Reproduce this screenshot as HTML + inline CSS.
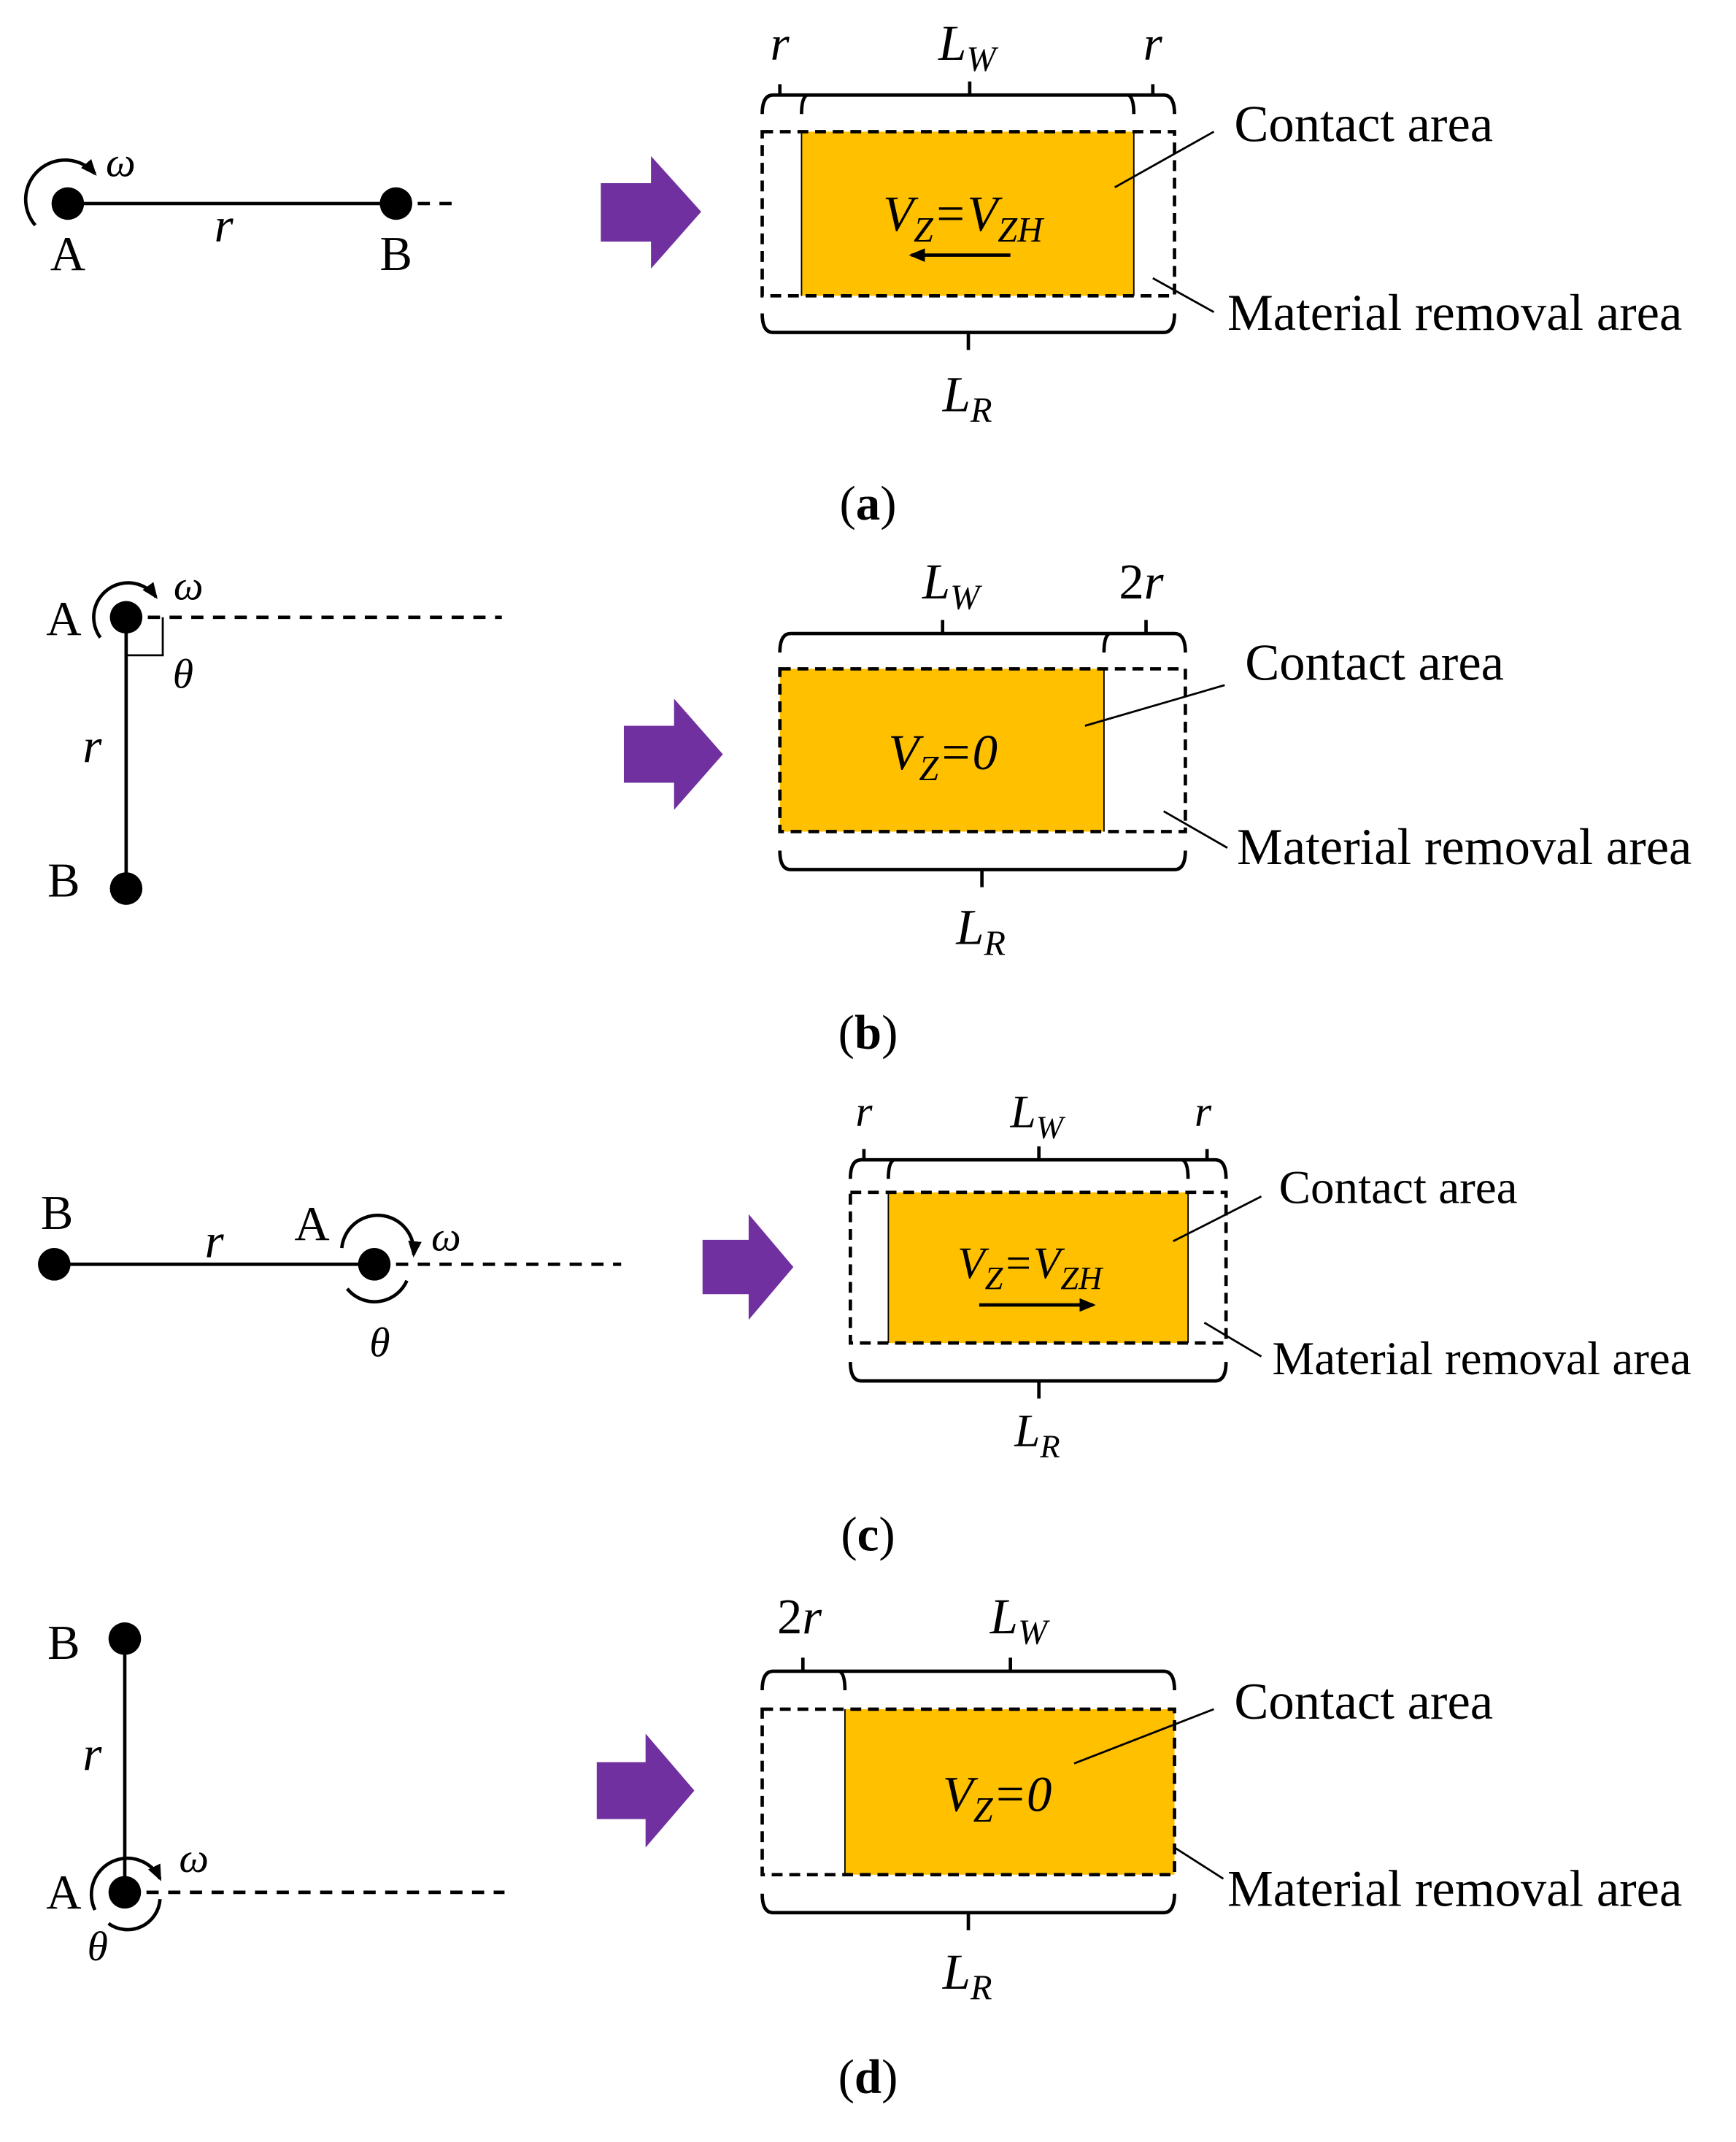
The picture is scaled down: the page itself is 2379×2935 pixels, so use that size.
<!DOCTYPE html>
<html><head><meta charset="utf-8"><style>
html,body{margin:0;padding:0;background:#fff}
svg{display:block}
text{font-family:"Liberation Serif",serif;fill:#000}
.i{font-style:italic}
</style></head><body>
<svg width="2379" height="2935" viewBox="0 0 1280 1579" xmlns="http://www.w3.org/2000/svg">
<defs>
<marker id="ah2" markerWidth="12" markerHeight="10" refX="10" refY="5" orient="auto" markerUnits="userSpaceOnUse"><path d="M0,0 L12,5 L0,10 z" fill="#000"/></marker>
</defs>
<g stroke="#000" fill="none" stroke-width="2.5">
<line x1="50" y1="150" x2="292" y2="150"/>
<line x1="292" y1="150" x2="337" y2="150" stroke-dasharray="9,7"/>
<path d="M26,166 A26,26 0 1 1 70,128" marker-end="url(#ah2)"/>
<line x1="93" y1="455" x2="93" y2="655"/>
<line x1="93" y1="455" x2="370" y2="455" stroke-dasharray="9,7"/>
<path d="M93,483 H120 V455" stroke-width="1.5"/>
<path d="M74,470 A24,24 0 1 1 115,440" marker-end="url(#ah2)"/>
<line x1="40" y1="932" x2="276" y2="932"/>
<line x1="276" y1="932" x2="458" y2="932" stroke-dasharray="9,7"/>
<path d="M252,920 A26,26 0 1 1 305,925" marker-end="url(#ah2)"/>
<path d="M256,950 A26,26 0 0 0 300,944"/>
<line x1="92" y1="1208" x2="92" y2="1395"/>
<line x1="92" y1="1395" x2="372" y2="1395" stroke-dasharray="9,7"/>
<path d="M70,1408 A26,26 0 1 1 118,1385" marker-end="url(#ah2)"/>
<path d="M80,1418 A24,24 0 0 0 118,1400"/>
</g>
<g fill="#000">
<circle cx="50" cy="150" r="12"/><circle cx="292" cy="150" r="12"/>
<circle cx="93" cy="455" r="12"/><circle cx="93" cy="655" r="12"/>
<circle cx="40" cy="932" r="12"/><circle cx="276" cy="932" r="12"/>
<circle cx="92" cy="1208" r="12"/><circle cx="92" cy="1395" r="12"/>
</g>
<g fill="#7030a0">
<path d="M443,135 H480 V115 L517,156 L480,198 V178 H443 Z"/>
<path d="M460,535 H497 V515 L533,556 L497,597 V577 H460 Z"/>
<path d="M518,914 H552 V895 L585,934 L552,973 V954 H518 Z"/>
<path d="M440,1299 H476 V1278 L512,1320 L476,1362 V1341 H440 Z"/>
</g>
<g stroke-width="0">
<rect x="591" y="97" width="245" height="121" fill="#ffc000"/>
<rect x="575" y="493" width="239" height="120" fill="#ffc000"/>
<rect x="655" y="879" width="221" height="111" fill="#ffc000"/>
<rect x="623" y="1260" width="243" height="122" fill="#ffc000"/>
</g>
<g stroke="#000" fill="none" stroke-width="2.5">
<rect x="562" y="97" width="304" height="121" stroke-dasharray="8,5"/>
<rect x="575" y="493" width="299" height="120" stroke-dasharray="8,5"/>
<rect x="627" y="879" width="277" height="111" stroke-dasharray="8,5"/>
<rect x="562" y="1260" width="304" height="122" stroke-dasharray="8,5"/>
<line x1="591" y1="97" x2="591" y2="218" stroke-width="1"/><line x1="836" y1="97" x2="836" y2="218" stroke-width="1"/>
<line x1="814" y1="493" x2="814" y2="613" stroke-width="1"/>
<line x1="655" y1="879" x2="655" y2="990" stroke-width="1"/><line x1="876" y1="879" x2="876" y2="990" stroke-width="1"/>
<line x1="623" y1="1260" x2="623" y2="1382" stroke-width="1"/>
<line x1="745" y1="188" x2="672" y2="188" marker-end="url(#ah2)"/>
<line x1="722" y1="962" x2="806" y2="962" marker-end="url(#ah2)"/>
<path d="M562,84 Q562,70 570,70 H858 Q866,70 866,84"/>
<path d="M591,84 Q591,72 595,70 M836,84 Q836,72 832,70"/>
<path d="M575,62 V70 M715,60 V70 M850,62 V70"/>
<path d="M575,481 Q575,467 583,467 H866 Q874,467 874,481"/>
<path d="M814,481 Q814,469 818,467 M695,457 V467 M845,457 V467"/>
<path d="M627,869 Q627,855 635,855 H896 Q904,855 904,869"/>
<path d="M655,869 Q655,857 659,855 M876,869 Q876,857 872,855 M637,847 V855 M766,845 V855 M890,847 V855"/>
<path d="M562,1246 Q562,1232 570,1232 H858 Q866,1232 866,1246"/>
<path d="M623,1246 Q623,1234 619,1232 M592,1222 V1232 M745,1222 V1232"/>
<path d="M562,231 Q562,245 570,245 H858 Q866,245 866,231 M714,245 V258"/>
<path d="M575,627 Q575,641 583,641 H866 Q874,641 874,627 M724,641 V654"/>
<path d="M627,1004 Q627,1018 635,1018 H896 Q904,1018 904,1004 M766,1018 V1031"/>
<path d="M562,1396 Q562,1410 570,1410 H858 Q866,1410 866,1396 M714,1410 V1423"/>
<g stroke-width="1.5">
<line x1="895" y1="97" x2="822" y2="138"/><line x1="895" y1="230" x2="850" y2="205"/>
<line x1="903" y1="505" x2="800" y2="535"/><line x1="905" y1="625" x2="858" y2="598"/>
<line x1="930" y1="882" x2="865" y2="915"/><line x1="930" y1="1000" x2="888" y2="975"/>
<line x1="895" y1="1260" x2="792" y2="1300"/><line x1="902" y1="1385" x2="866" y2="1362"/>
</g>
</g>
<g font-size="36">
<text x="50" y="199" text-anchor="middle">A</text>
<text x="292" y="199" text-anchor="middle">B</text>
<text x="165" y="178" class="i" text-anchor="middle">r</text>
<text x="78" y="130" class="i" font-size="31">ω</text>
<text x="575" y="44" class="i" text-anchor="middle">r</text>
<text x="692" y="44" class="i" font-size="37">L<tspan font-size="26" dy="8">W</tspan></text>
<text x="850" y="44" class="i" text-anchor="middle">r</text>
<text x="651" y="170" class="i" font-size="37">V<tspan font-size="26" dy="8">Z</tspan><tspan dy="-8">=V</tspan><tspan font-size="26" dy="8">ZH</tspan></text>
<text x="695" y="303" class="i" font-size="37">L<tspan font-size="26" dy="8">R</tspan></text>
<text x="910" y="104" font-size="38">Contact area</text>
<text x="905" y="243" font-size="38">Material removal area</text>
<text x="640" y="383" text-anchor="middle" font-size="36">(<tspan font-weight="bold">a</tspan>)</text>
<text x="47" y="468" text-anchor="middle">A</text>
<text x="47" y="661" text-anchor="middle">B</text>
<text x="68" y="562" class="i" text-anchor="middle">r</text>
<text x="135" y="507" class="i" text-anchor="middle" font-size="31">θ</text>
<text x="128" y="442" class="i" font-size="31">ω</text>
<text x="680" y="441" class="i" font-size="37">L<tspan font-size="26" dy="8">W</tspan></text>
<text x="825" y="441" class="i" font-size="37"><tspan font-style="normal">2</tspan>r</text>
<text x="655" y="567" class="i" font-size="37">V<tspan font-size="26" dy="8">Z</tspan><tspan dy="-8">=0</tspan></text>
<text x="705" y="696" class="i" font-size="37">L<tspan font-size="26" dy="8">R</tspan></text>
<text x="918" y="501" font-size="38">Contact area</text>
<text x="912" y="637" font-size="38">Material removal area</text>
<text x="640" y="773" text-anchor="middle" font-size="36">(<tspan font-weight="bold">b</tspan>)</text>
<text x="42" y="906" text-anchor="middle">B</text>
<text x="158" y="927" class="i" text-anchor="middle">r</text>
<text x="230" y="914" text-anchor="middle">A</text>
<text x="318" y="922" class="i" font-size="31">ω</text>
<text x="280" y="1000" class="i" text-anchor="middle" font-size="31">θ</text>
<text x="637" y="830" class="i" text-anchor="middle" font-size="32">r</text>
<text x="745" y="831" class="i" font-size="34">L<tspan font-size="24" dy="8">W</tspan></text>
<text x="887" y="830" class="i" text-anchor="middle" font-size="32">r</text>
<text x="706" y="942" class="i" font-size="33">V<tspan font-size="24" dy="8">Z</tspan><tspan dy="-8">=V</tspan><tspan font-size="24" dy="8">ZH</tspan></text>
<text x="748" y="1066" class="i" font-size="34">L<tspan font-size="24" dy="8">R</tspan></text>
<text x="943" y="887" font-size="35">Contact area</text>
<text x="938" y="1013" font-size="35">Material removal area</text>
<text x="640" y="1143" text-anchor="middle" font-size="36">(<tspan font-weight="bold">c</tspan>)</text>
<text x="47" y="1223" text-anchor="middle">B</text>
<text x="68" y="1305" class="i" text-anchor="middle">r</text>
<text x="47" y="1407" text-anchor="middle">A</text>
<text x="132" y="1380" class="i" font-size="31">ω</text>
<text x="72" y="1445" class="i" text-anchor="middle" font-size="31">θ</text>
<text x="573" y="1204" class="i" font-size="37"><tspan font-style="normal">2</tspan>r</text>
<text x="730" y="1204" class="i" font-size="37">L<tspan font-size="26" dy="8">W</tspan></text>
<text x="695" y="1335" class="i" font-size="37">V<tspan font-size="26" dy="8">Z</tspan><tspan dy="-8">=0</tspan></text>
<text x="695" y="1466" class="i" font-size="37">L<tspan font-size="26" dy="8">R</tspan></text>
<text x="910" y="1267" font-size="38">Contact area</text>
<text x="905" y="1405" font-size="38">Material removal area</text>
<text x="640" y="1543" text-anchor="middle" font-size="36">(<tspan font-weight="bold">d</tspan>)</text>
</g>
</svg>
</body></html>
